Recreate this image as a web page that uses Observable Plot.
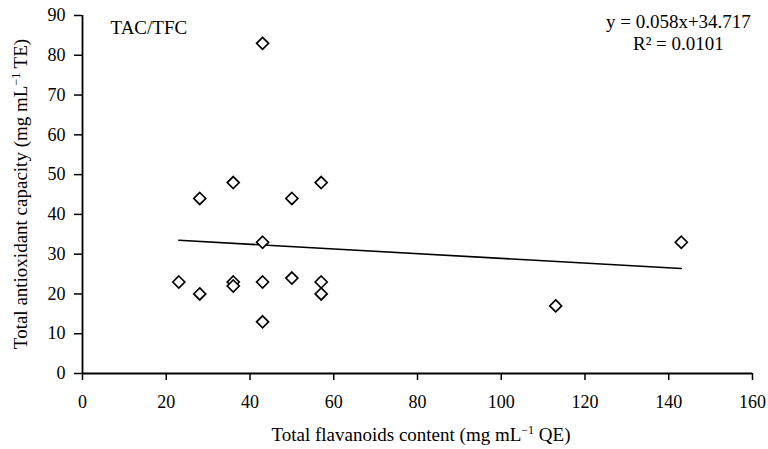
<!DOCTYPE html>
<html><head><meta charset="utf-8">
<script src="https://cdn.jsdelivr.net/npm/d3@7"></script>
<script src="https://cdn.jsdelivr.net/npm/@observablehq/plot@0.6"></script>
<style>
body{margin:0;background:#fff}
svg, svg text, svg tspan { font-family: "Liberation Serif", "Times New Roman", serif !important; }
</style>
</head><body><div id="chart"></div>
<script>
const flavanoids  = [23, 28, 28, 36, 36, 36, 43, 43, 43, 43, 50, 50, 57, 57, 57, 113, 143];
const antioxidant = [23, 20, 44, 48, 23, 22, 83, 33, 23, 13, 44, 24, 48, 23, 20, 17, 33];
const trendX = [23, 143];
const trendY = [33.5, 26.4];
const xTicks = [0, 20, 40, 60, 80, 100, 120, 140, 160];
const yTicks = [0, 10, 20, 30, 40, 50, 60, 70, 80, 90];
const labelText = ["TAC/TFC"];
const eqText = ["y = 0.058x+34.717"];
const r2Text = ["R² = 0.0101"];

const pts = flavanoids.map((x, i) => ({x, y: antioxidant[i]}));
const trend = trendX.map((x, i) => ({x, y: trendY[i]}));
const font = "Liberation Serif, Times New Roman, serif";

const W = 768, H = 449, mL = 82, mR = 16, mT = 15, mB = 76;
const chart = Plot.plot({
  width: W, height: H,
  marginLeft: mL, marginRight: mR, marginTop: mT, marginBottom: mB,
  style: {fontFamily: font, fontSize: "18px", color: "#000", background: "#fff"},
  x: {domain: [0, 160], ticks: xTicks, label: null},
  y: {domain: [0, 90], ticks: yTicks, label: null},
  marks: [
    Plot.axisX({ticks: xTicks, tickSize: 7, tickPadding: 15, strokeWidth: 1.5, fontSize: 18, label: null}),
    Plot.axisY({ticks: yTicks, tickSize: 8, tickPadding: 9, strokeWidth: 1.5, fontSize: 18, label: null}),
    Plot.ruleY([0], {stroke: "#000", strokeWidth: 1.8}),
    Plot.ruleX([0], {stroke: "#000", strokeWidth: 1.8}),
    Plot.line(trend, {x: "x", y: "y", stroke: "#000", strokeWidth: 1.6}),
    Plot.dot(pts, {x: "x", y: "y", symbol: "diamond2", r: 5.4, stroke: "#000", strokeWidth: 1.7, fill: "#fff"}),
    Plot.text(labelText, {x: 6.7, y: 87, text: d => d, textAnchor: "start", fontSize: 19, fill: "#000"}),
    Plot.text(eqText, {x: 142.3, y: 88.4, text: d => d, textAnchor: "middle", fontSize: 19, fill: "#000"}),
    Plot.text(r2Text, {x: 142.3, y: 82.8, text: d => d, textAnchor: "middle", fontSize: 19, fill: "#000"})
  ]
});
document.getElementById("chart").appendChild(chart);

const svg = d3.select(chart);
const xl = svg.append("text")
  .attr("x", 421).attr("y", 441)
  .attr("text-anchor", "middle").attr("font-size", 19).attr("fill", "#000");
xl.append("tspan").text("Total flavanoids content (mg mL");
xl.append("tspan").attr("dy", -7).attr("font-size", 12).text("−1");
xl.append("tspan").attr("dy", 7).text(" QE)");
const yl = svg.append("text")
  .attr("transform", `translate(27,${(mT + H - mB) / 2}) rotate(-90)`)
  .attr("text-anchor", "middle").attr("font-size", 19).attr("fill", "#000");
yl.append("tspan").text("Total antioxidant capacity (mg mL");
yl.append("tspan").attr("dy", -7).attr("font-size", 12).text("−1");
yl.append("tspan").attr("dy", 7).text(" TE)");
</script>
</body></html>
